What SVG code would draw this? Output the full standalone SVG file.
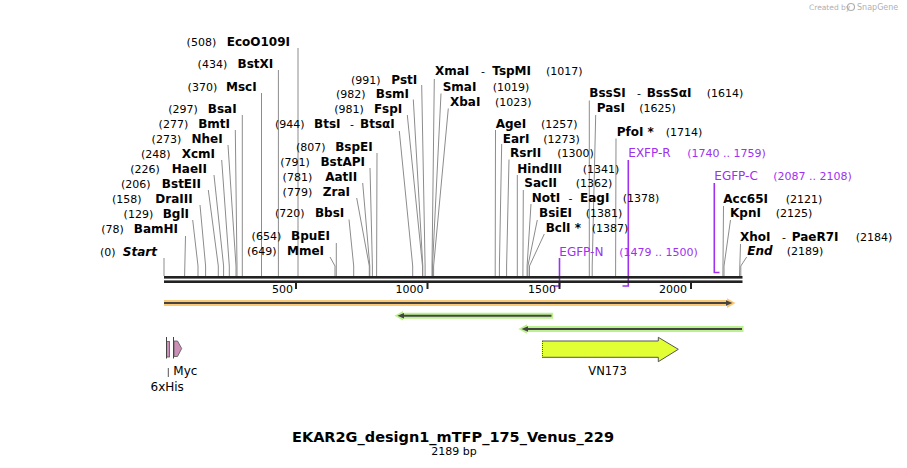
<svg xmlns="http://www.w3.org/2000/svg" width="907" height="468" viewBox="0 0 907 468">
<style>
text{font-family:"DejaVu Sans",Verdana,sans-serif;fill:#000}
.n{font-size:11px}
.b{font-size:12px;font-weight:bold}
.bi{font-size:12px;font-weight:bold;font-style:italic}
.d{font-size:11px}
.p{fill:#a030f0;font-size:12px}
.pn{fill:#a030f0;font-size:11px}
.ln{fill:none;stroke:#8c8c8c;stroke-width:1}
.pl{fill:none;stroke:#a030f0;stroke-width:1.6}
.tk{font-size:11px}
.wm{fill:#b0b0b0;font-size:7.5px}
</style>
<rect width="907" height="468" fill="#fff"/>
<g id="watermark"><text class="wm" x="809" y="10">Created by</text><circle cx="851" cy="7" r="3.5" fill="none" stroke="#b0b0b0" stroke-width="1.2"/><text class="wm" x="857" y="10" style="font-size:8px">SnapGene</text></g>

<g id="connectors">
<polyline class="ln" points="298,48 298,276"/>
<polyline class="ln" points="278.4,70 278.4,276"/>
<polyline class="ln" points="261.5,93 261.5,276"/>
<polyline class="ln" points="242.3,115 242.3,276"/>
<polyline class="ln" points="235.3,130 237,266 237,276"/>
<polyline class="ln" points="228,145 236,266 236,276"/>
<polyline class="ln" points="221.7,160 229.3,266 229.3,276"/>
<polyline class="ln" points="214,175 223.6,266 223.6,276"/>
<polyline class="ln" points="208.3,190 218.3,266 218.3,276"/>
<polyline class="ln" points="200,205 205.6,266 205.6,276"/>
<polyline class="ln" points="192.7,220 198,266 198,276"/>
<polyline class="ln" points="185.5,236 184.6,276"/>
<polyline class="ln" points="164,258 164,276"/>
<polyline class="ln" points="399.3,131 412.7,266 412.7,276"/>
<polyline class="ln" points="377,153 376.6,276"/>
<polyline class="ln" points="370,168 372.4,266 372.4,276"/>
<polyline class="ln" points="362.7,183 369.8,266 369.8,276"/>
<polyline class="ln" points="356.7,198 369.3,266 369.3,276"/>
<polyline class="ln" points="349,219.5 353.7,266 353.7,276"/>
<polyline class="ln" points="336.3,243 336.3,276"/>
<polyline class="ln" points="330,257 335,266 335,276"/>
<polyline class="ln" points="421.7,85 425.1,266 425.1,276"/>
<polyline class="ln" points="413.3,99.5 422.8,266 422.8,276"/>
<polyline class="ln" points="407.3,115 422.5,266 422.5,276"/>
<polyline class="ln" points="434.3,79 432,266 432,276"/>
<polyline class="ln" points="441,93.5 432.5,266 432.5,276"/>
<polyline class="ln" points="448.3,108.5 433.6,266 433.6,276"/>
<polyline class="ln" points="495.5,130 495.2,276"/>
<polyline class="ln" points="501.7,144 499.4,266 499.4,276"/>
<polyline class="ln" points="509,159.5 506.6,266 506.6,276"/>
<polyline class="ln" points="517.3,175 517.3,276"/>
<polyline class="ln" points="523.3,190 522.9,276"/>
<polyline class="ln" points="531,204 527.1,266 527.1,276"/>
<polyline class="ln" points="537.3,220 527.9,266 527.9,276"/>
<polyline class="ln" points="544.3,234 529.5,266 529.5,276"/>
<polyline class="ln" points="589.3,100.5 589.3,276"/>
<polyline class="ln" points="595.7,115 592.2,266 592.2,276"/>
<polyline class="ln" points="616,138.5 615.6,276"/>
<polyline class="ln" points="723.5,206 722.9,276"/>
<polyline class="ln" points="730.5,220 724,266 724,276"/>
<polyline class="ln" points="740.5,244 739.5,276"/>
<polyline class="ln" points="746.7,257 740.8,266 740.8,276"/>
<polyline class="pl" points="559.5,258 559.5,286 554,286"/>
<polyline class="pl" points="628.3,160 628.3,286 622.5,286"/>
<polyline class="pl" points="714.3,183 714.3,272.5 719.5,272.5"/>
</g>

<g id="map">
<rect x="164" y="276" width="578.5" height="2.6" fill="#222"/>
<rect x="164" y="280.4" width="578.5" height="2.6" fill="#222"/>
<rect x="295" y="283" width="2" height="6" fill="#222"/>
<rect x="426.5" y="283" width="2" height="6" fill="#222"/>
<rect x="558.5" y="283" width="2" height="6" fill="#222"/>
<rect x="690" y="283" width="2" height="6" fill="#222"/>
<text class="tk" x="293" y="292.5" text-anchor="end">500</text>
<text class="tk" x="423.5" y="292.5" text-anchor="end">1000</text>
<text class="tk" x="556" y="292.5" text-anchor="end">1500</text>
<text class="tk" x="687" y="292.5" text-anchor="end">2000</text>
</g>

<g id="enz-EcoO109I"><text class="n" x="216.2" y="46" text-anchor="end">(508)</text><text class="b" x="290" y="46" text-anchor="end">EcoO109I</text></g>
<g id="enz-BstXI"><text class="n" x="227.2" y="68" text-anchor="end">(434)</text><text class="b" x="273.3" y="68" text-anchor="end">BstXI</text></g>
<g id="enz-MscI"><text class="n" x="217.2" y="91" text-anchor="end">(370)</text><text class="b" x="256.7" y="91" text-anchor="end">MscI</text></g>
<g id="enz-BsaI"><text class="n" x="197.8" y="113" text-anchor="end">(297)</text><text class="b" x="236.7" y="113" text-anchor="end">BsaI</text></g>
<g id="enz-BmtI"><text class="n" x="188.2" y="128" text-anchor="end">(277)</text><text class="b" x="230" y="128" text-anchor="end">BmtI</text></g>
<g id="enz-NheI"><text class="n" x="181.2" y="143" text-anchor="end">(273)</text><text class="b" x="222.7" y="143" text-anchor="end">NheI</text></g>
<g id="enz-XcmI"><text class="n" x="170.5" y="158" text-anchor="end">(248)</text><text class="b" x="215" y="158" text-anchor="end">XcmI</text></g>
<g id="enz-HaeII"><text class="n" x="159.8" y="173" text-anchor="end">(226)</text><text class="b" x="207" y="173" text-anchor="end">HaeII</text></g>
<g id="enz-BstEII"><text class="n" x="150.5" y="188" text-anchor="end">(206)</text><text class="b" x="201" y="188" text-anchor="end">BstEII</text></g>
<g id="enz-DraIII"><text class="n" x="141.5" y="203" text-anchor="end">(158)</text><text class="b" x="192.7" y="203" text-anchor="end">DraIII</text></g>
<g id="enz-BglI"><text class="n" x="153.2" y="218" text-anchor="end">(129)</text><text class="b" x="189" y="218" text-anchor="end">BglI</text></g>
<g id="enz-BamHI"><text class="n" x="123.8" y="233" text-anchor="end">(78)</text><text class="b" x="178" y="233" text-anchor="end">BamHI</text></g>
<g id="enz-Start"><text class="n" x="115.5" y="256" text-anchor="end">(0)</text><text class="bi" x="157" y="256" text-anchor="end">Start</text></g>

<g id="enz-BtsI"><text class="n" x="304.5" y="128" text-anchor="end">(944)</text><text class="b" x="314" y="128">BtsI</text><text class="d" x="350" y="128">-</text><text class="b" x="360" y="128">BtsαI</text></g>
<g id="enz-BspEI"><text class="n" x="325.5" y="151" text-anchor="end">(807)</text><text class="b" x="372.7" y="151" text-anchor="end">BspEI</text></g>
<g id="enz-BstAPI"><text class="n" x="309.8" y="166" text-anchor="end">(791)</text><text class="b" x="365" y="166" text-anchor="end">BstAPI</text></g>
<g id="enz-AatII"><text class="n" x="312.2" y="181" text-anchor="end">(781)</text><text class="b" x="357.3" y="181" text-anchor="end">AatII</text></g>
<g id="enz-ZraI"><text class="n" x="312.2" y="196" text-anchor="end">(779)</text><text class="b" x="350" y="196" text-anchor="end">ZraI</text></g>
<g id="enz-BbsI"><text class="n" x="304.5" y="217" text-anchor="end">(720)</text><text class="b" x="344.3" y="217" text-anchor="end">BbsI</text></g>
<g id="enz-BpuEI"><text class="n" x="281.2" y="240" text-anchor="end">(654)</text><text class="b" x="330" y="240" text-anchor="end">BpuEI</text></g>
<g id="enz-MmeI"><text class="n" x="276.5" y="255" text-anchor="end">(649)</text><text class="b" x="324" y="255" text-anchor="end">MmeI</text></g>
<g id="enz-PstI"><text class="n" x="380.5" y="83.5" text-anchor="end">(991)</text><text class="b" x="417.3" y="83.5" text-anchor="end">PstI</text></g>
<g id="enz-BsmI"><text class="n" x="365.5" y="97.5" text-anchor="end">(982)</text><text class="b" x="409" y="97.5" text-anchor="end">BsmI</text></g>
<g id="enz-FspI"><text class="n" x="363.8" y="112.7" text-anchor="end">(981)</text><text class="b" x="402.3" y="112.7" text-anchor="end">FspI</text></g>

<g id="enz-XmaI"><text class="b" x="435" y="75">XmaI</text><text class="d" x="481" y="75">-</text><text class="b" x="492.3" y="75">TspMI</text><text class="n" x="546" y="75">(1017)</text></g>
<g id="enz-SmaI"><text class="b" x="442.7" y="90.7">SmaI</text><text class="n" x="492.7" y="90.7">(1019)</text></g>
<g id="enz-XbaI"><text class="b" x="450" y="105.7">XbaI</text><text class="n" x="495" y="105.7">(1023)</text></g>
<g id="enz-AgeI"><text class="b" x="495.7" y="127.7">AgeI</text><text class="n" x="541" y="127.7">(1257)</text></g>
<g id="enz-EarI"><text class="b" x="502.7" y="142.7">EarI</text><text class="n" x="543.3" y="142.7">(1273)</text></g>
<g id="enz-RsrII"><text class="b" x="510" y="157.3">RsrII</text><text class="n" x="557.3" y="157.3">(1300)</text></g>
<g id="enz-HindIII"><text class="b" x="517.3" y="172.7">HindIII</text><text class="n" x="582.7" y="172.7">(1341)</text></g>
<g id="enz-SacII"><text class="b" x="524.3" y="187.3">SacII</text><text class="n" x="575.7" y="187.3">(1362)</text></g>
<g id="enz-NotI"><text class="b" x="531.7" y="202.3">NotI</text><text class="d" x="568.5" y="202.3">-</text><text class="b" x="580" y="202.3">EagI</text><text class="n" x="622.7" y="202.3">(1378)</text></g>
<g id="enz-BsiEI"><text class="b" x="539" y="217.3">BsiEI</text><text class="n" x="585.7" y="217.3">(1381)</text></g>
<g id="enz-BclI"><text class="b" x="545.7" y="232.3">BclI *</text><text class="n" x="591.7" y="232.3">(1387)</text></g>
<g id="enz-BssSI"><text class="b" x="589.3" y="97.3">BssSI</text><text class="d" x="637" y="97.3">-</text><text class="b" x="646.7" y="97.3">BssSαI</text><text class="n" x="706.7" y="97.3">(1614)</text></g>
<g id="enz-PasI"><text class="b" x="596.7" y="112.3">PasI</text><text class="n" x="639.3" y="112.3">(1625)</text></g>
<g id="enz-PfoI"><text class="b" x="616.7" y="136">PfoI *</text><text class="n" x="665.7" y="136">(1714)</text></g>
<g id="enz-Acc65I"><text class="b" x="723.3" y="202.5">Acc65I</text><text class="n" x="785.7" y="202.5">(2121)</text></g>
<g id="enz-KpnI"><text class="b" x="730" y="217.3">KpnI</text><text class="n" x="775.7" y="217.3">(2125)</text></g>
<g id="enz-XhoI"><text class="b" x="740" y="240.5">XhoI</text><text class="d" x="782" y="240.5">-</text><text class="b" x="791.7" y="240.5">PaeR7I</text><text class="n" x="855.7" y="240.5">(2184)</text></g>
<g id="enz-End"><text class="bi" x="747.3" y="255">End</text><text class="n" x="786.7" y="255">(2189)</text></g>

<g id="primer-EXFP-R"><text class="p" x="628.3" y="157.3">EXFP-R</text><text class="pn" x="687.3" y="157.3">(1740 .. 1759)</text></g>
<g id="primer-EGFP-C"><text class="p" x="714.3" y="180">EGFP-C</text><text class="pn" x="773.3" y="180">(2087 .. 2108)</text></g>
<g id="primer-EGFP-N"><text class="p" x="559.3" y="255.7">EGFP-N</text><text class="pn" x="619.3" y="255.7">(1479 .. 1500)</text></g>

<g id="feat-orange">
<polygon points="164,300 727,300 727,298.3 735.5,303 727,308 727,306 164,306" fill="#fbc874"/>
<line x1="164" y1="303" x2="728" y2="303" stroke="#444" stroke-width="2"/>
<polygon points="726,300.3 732.5,303 726,305.7" fill="#444"/>
</g>
<g id="feat-green1">
<polygon points="553,312.7 403,312.7 403,311 394.5,315.7 403,320.5 403,318.7 553,318.7" fill="#bdf08e"/>
<line x1="401" y1="315.7" x2="551.5" y2="315.7" stroke="#444" stroke-width="2"/>
<polygon points="404,313 397.5,315.7 404,318.4" fill="#444"/>
</g>
<g id="feat-green2">
<polygon points="743.5,326 527,326 527,324.3 518.3,329 527,333.8 527,332 743.5,332" fill="#bdf08e"/>
<line x1="525" y1="329" x2="742" y2="329" stroke="#444" stroke-width="2"/>
<polygon points="528,326.3 521.5,329 528,331.7" fill="#444"/>
</g>

<g id="feat-VN173">
<polygon points="542,341 658.3,341 658.3,337.3 678.3,349.3 658.3,361.7 658.3,357.3 542,357.3" fill="#e2ff33"/>
<polyline points="542,341 658.3,341 658.3,337.3 678.3,349.3 658.3,361.7 658.3,357.3 542,357.3" fill="none" stroke="#555" stroke-width="1"/>
<line x1="542.5" y1="341" x2="542.5" y2="357.3" stroke="#555" stroke-width="1" stroke-dasharray="1,1"/>
<text x="607.5" y="374.5" text-anchor="middle" style="font-size:11.5px">VN173</text>
</g>

<g id="feat-6xHis">
<rect x="166.5" y="341.5" width="3" height="15.5" fill="#cc8fb8" stroke="#555" stroke-width="0.8"/>
<line x1="166.5" y1="337" x2="166.5" y2="358.5" stroke="#444" stroke-width="1"/>
<line x1="168.3" y1="368" x2="168.3" y2="377" stroke="#555" stroke-width="1"/>
<text x="150.5" y="391" style="font-size:12px">6xHis</text>
</g>
<g id="feat-Myc">
<polygon points="174,341 177.5,341 181.7,348.5 177.5,356.5 174,356.5" fill="#cc8fb8" stroke="#555" stroke-width="0.8"/>
<line x1="173.5" y1="337" x2="173.5" y2="358.5" stroke="#444" stroke-width="1"/>
<text x="173.3" y="375" style="font-size:12px">Myc</text>
</g>

<g id="title">
<text x="453" y="441.7" text-anchor="middle" style="font-size:14.5px;font-weight:bold">EKAR2G_design1_mTFP_175_Venus_229</text>
<text x="454" y="455" text-anchor="middle" style="font-size:11px">2189 bp</text>
</g>
</svg>
